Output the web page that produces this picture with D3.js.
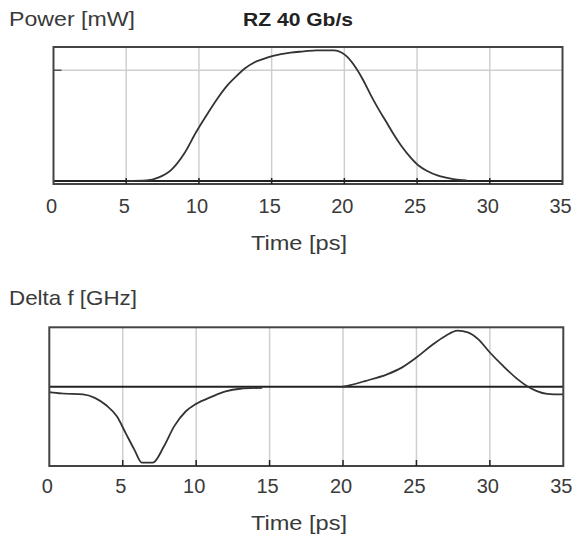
<!DOCTYPE html>
<html><head><meta charset="utf-8">
<script src="https://cdn.jsdelivr.net/npm/d3@7"></script>
<style>
html,body{margin:0;padding:0;background:#fff;}
svg{display:block;font-family:"Liberation Sans",Arial,sans-serif;}
</style></head>
<body><svg id="c" width="572" height="541"></svg>
<script>
// ---- data ----
const timeTicks = [0, 5, 10, 15, 20, 25, 30, 35];
const gridTicks = [5, 10, 15, 20, 25, 30];
const powerGridLevel = [1];
const powerT = [5, 6.4, 7.2, 8.1, 9.0, 9.8, 10.6, 11.3, 12.0, 12.6, 13.2, 13.8, 14.4, 15.1, 16.3, 17.2, 18.1, 19.3, 19.8, 20.2, 20.8, 21.3, 21.8, 22.3, 22.9, 23.4, 23.9, 24.5, 25.1, 25.7, 26.4, 27.0, 27.6, 28.4];
const powerV = [0, 0.005, 0.03, 0.10, 0.25, 0.44, 0.61, 0.75, 0.87, 0.95, 1.02, 1.07, 1.10, 1.13, 1.16, 1.17, 1.18, 1.18, 1.16, 1.12, 1.02, 0.91, 0.78, 0.66, 0.53, 0.42, 0.32, 0.22, 0.14, 0.09, 0.05, 0.03, 0.015, 0.005];
const chirpT = [0, 0.8, 2.3, 3.1, 3.9, 4.6, 5.2, 5.8, 6.3, 7.05, 7.8, 8.5, 9.3, 10.0, 11.0, 12.0, 13.0, 14.5, 17, 20, 20.5, 21.5, 23.0, 24.0, 25.0, 26.0, 27.0, 27.8, 28.5, 29.2, 30.0, 30.9, 31.9, 32.6, 33.2, 33.9, 35];
const chirpV = [-1.6, -2.0, -2.3, -3.3, -5.6, -8.8, -13.8, -18.8, -22.6, -22.6, -17.8, -11.8, -7.3, -5.1, -3.1, -1.4, -0.6, -0.3, null, 0, 0.5, 1.7, 3.7, 5.7, 8.7, 12.2, 15.2, 16.7, 16.2, 14.2, 10.2, 6.2, 2.2, 0, -1.3, -2.1, -2.3];
const titleText = "RZ 40 Gb/s";
const powerLabel = "Power [mW]";
const chirpLabel = "Delta f [GHz]";
const xLabel = "Time [ps]";

// ---- drawing ----
const svg = d3.select("#c");
const FS = 20, LFS = 21;

function panel(cfg) {
  const x = d3.scaleLinear().domain([0, 35]).range([cfg.x0, cfg.x1]);
  const y = d3.scaleLinear().domain(cfg.yDomain).range([cfg.y1, cfg.y0]);
  const g = svg.append("g");
  g.selectAll(".vg").data(gridTicks).join("line")
    .attr("x1", d => x(d)).attr("x2", d => x(d))
    .attr("y1", cfg.y0).attr("y2", cfg.y1)
    .attr("stroke", "#cfcfcf").attr("stroke-width", 1.5);
  if (cfg.hgrid) {
    g.selectAll(".hg").data(cfg.hgrid).join("line")
      .attr("x1", cfg.x0).attr("x2", cfg.x1)
      .attr("y1", d => y(d)).attr("y2", d => y(d))
      .attr("stroke", "#cfcfcf").attr("stroke-width", 1.5);
    g.selectAll(".ht").data(cfg.hgrid).join("line")
      .attr("x1", cfg.x0).attr("x2", cfg.x0 + 8)
      .attr("y1", d => y(d)).attr("y2", d => y(d))
      .attr("stroke", "#555").attr("stroke-width", 1.5);
  }
  g.append("line").attr("x1", cfg.x0).attr("x2", cfg.x1)
    .attr("y1", y(0)).attr("y2", y(0))
    .attr("stroke", "#222").attr("stroke-width", cfg.zeroW);
  const pts = cfg.t.map((t, i) => [t, cfg.v[i]]);
  g.append("path").datum(pts)
    .attr("fill", "none").attr("stroke", "#333").attr("stroke-width", 1.8)
    .attr("d", d3.line().defined(d => d[1] !== null)
      .x(d => x(d[0])).y(d => y(d[1])).curve(d3.curveMonotoneX));
  g.append("rect").attr("x", cfg.x0).attr("y", cfg.y0)
    .attr("width", cfg.x1 - cfg.x0).attr("height", cfg.yb - cfg.y0)
    .attr("fill", "none").attr("stroke", "#444").attr("stroke-width", 2);
  g.selectAll(".bt").data(gridTicks).join("line")
    .attr("x1", d => x(d)).attr("x2", d => x(d))
    .attr("y1", cfg.yb).attr("y2", cfg.yb - 6)
    .attr("stroke", "#222").attr("stroke-width", 1.5);
  g.selectAll(".tl").data(timeTicks).join("text")
    .attr("x", d => x(d) - 2).attr("y", cfg.tickY)
    .attr("text-anchor", "middle").attr("font-size", FS).attr("fill", "#3a3a3a")
    .text(d => d);
  g.append("text").attr("x", 299).attr("y", cfg.labelY)
    .attr("text-anchor", "middle").attr("font-size", LFS).attr("fill", "#3a3a3a")
    .attr("textLength", 96).attr("lengthAdjust", "spacingAndGlyphs")
    .text(xLabel);
  g.append("text").attr("x", 9).attr("y", cfg.titleY)
    .attr("font-size", LFS).attr("fill", "#3a3a3a")
    .attr("textLength", cfg.yLabelW).attr("lengthAdjust", "spacingAndGlyphs")
    .text(cfg.yLabel);
}

panel({x0: 53.5, x1: 562.5, y0: 47, y1: 181, yb: 184, yDomain: [0, 1.21],
  hgrid: powerGridLevel, zeroW: 2, t: powerT, v: powerV,
  tickY: 213, labelY: 250, titleY: 26, yLabel: powerLabel, yLabelW: 126});
panel({x0: 49.3, x1: 563.3, y0: 327.3, y1: 466, yb: 466, yDomain: [-23.6, 17.7],
  hgrid: null, zeroW: 1.8, t: chirpT, v: chirpV,
  tickY: 493, labelY: 530, titleY: 305, yLabel: chirpLabel, yLabelW: 128});

svg.append("text").attr("x", 298).attr("y", 26)
  .attr("text-anchor", "middle").attr("font-size", 19).attr("font-weight", "bold")
  .attr("fill", "#222").attr("textLength", 110).attr("lengthAdjust", "spacingAndGlyphs")
  .text(titleText);
</script></body></html>
